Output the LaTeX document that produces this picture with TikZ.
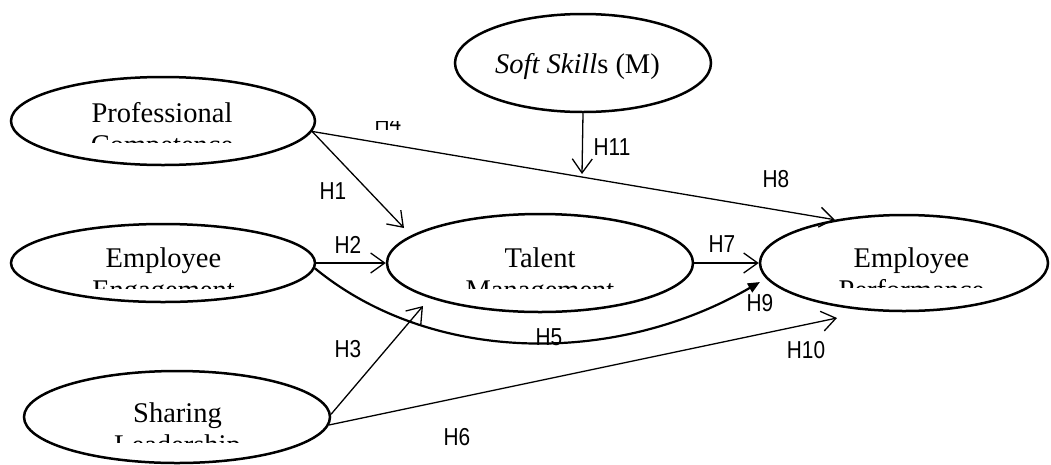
\documentclass[tikz,border=0pt]{standalone}
\usepackage{fontspec}
\setmainfont{Liberation Serif}
\newfontfamily\hfont[FakeStretch=0.85]{Liberation Sans}
\usetikzlibrary{arrows.meta,shapes.geometric}
\begin{document}
\begin{tikzpicture}[x=1pt,y=-1pt,
 ell/.style={draw, ellipse, line width=2.5pt, inner sep=0pt},
 ltext/.style={font=\fontsize{28.5}{32}\selectfont, anchor=base, inner sep=0pt},
 hlab/.style={font=\hfont\fontsize{24.5}{26}\selectfont, inner sep=0pt},
 arr/.style={line width=1.3pt, -{Straight Barb[length=14pt,width=20pt,line width=1.3pt]}},
]
\useasboundingbox (0,0) rectangle (1051,464);

% ellipses
\node[ell, minimum width=304pt, minimum height=88pt] (pc) at (163,121) {};
\node[ell, minimum width=304pt, minimum height=78pt] (ee) at (163,263) {};
\node[ell, minimum width=306pt, minimum height=92pt] (sl) at (177,417) {};
\node[ell, minimum width=306pt, minimum height=98pt] (tm) at (540,263) {};
\node[ell, minimum width=288pt, minimum height=96pt] (ep) at (904,263) {};
\node[ell, minimum width=256pt, minimum height=98pt] (ss) at (583,63) {};

% texts
\node[ltext] (pct) at (162,122) {Professional};
\begin{scope}\clip (0,0) rectangle (340,142);
\node[ltext] (pct2) at (162,154) {Competence};
\end{scope}
\node[ltext] (eet) at (163.5,267) {Employee};
\begin{scope}\clip (0,200) rectangle (340,288);
\node[ltext] (eet2) at (163.5,299) {Engagement};
\end{scope}
\node[ltext] (tmt) at (540,267) {Talent};
\begin{scope}\clip (380,200) rectangle (700,288);
\node[ltext] (tmt2) at (540,299) {Management};
\end{scope}
\node[ltext] (ept) at (911.5,267) {Employee};
\begin{scope}\clip (760,200) rectangle (1051,287);
\node[ltext] (ept2) at (911.5,299) {Performance};
\end{scope}
\node[ltext] (slt) at (177.5,422) {Sharing};
\begin{scope}\clip (0,380) rectangle (340,442);
\node[ltext] (slt2) at (177.5,454) {Leadership};
\end{scope}
\node[ltext] (sst) at (577.5,73) {\textit{Soft Skill}s (M)};

% connector end points
\coordinate (h1end) at (404,228);
\coordinate (h11end) at (582,174);
\coordinate (h9end) at (760,282);
\coordinate (h3end) at (423,306);
\coordinate (h6end) at (837,318);

% connectors
\draw[arr] (pc.-4) -- (h1end);
\draw[arr] (pc.-4) -- (ep.148.7);
\draw[arr] (ss.south) -- (h11end);
\draw[arr] (ee.east) -- (tm.west);
\draw[arr] (tm.east) -- (ep.west);
\draw[line width=2.2pt, -{Triangle[length=12pt,width=10pt]}] (ee.-2) .. controls (430,363) and (613,367) .. (h9end);
\draw[arr] (sl.1) -- (h3end);
\draw[arr] (sl.-3) -- (h6end);

% labels
\node[hlab] (l1) at (333,191) {H1};
\node[hlab] (l2) at (348,245) {H2};
\node[hlab] (l3) at (348,349) {H3};
\begin{scope}\clip (360,121) rectangle (420,135);
\node[hlab, anchor=base] (l4) at (388,130) {H4};
\end{scope}
\node[hlab] (l5) at (549,337) {H5};
\node[hlab] (l6) at (457,437) {H6};
\node[hlab] (l7) at (722,244) {H7};
\node[hlab] (l8) at (776,179) {H8};
\node[hlab] (l9) at (760,303) {H9};
\node[hlab] (l10) at (806,350) {H10};
\node[hlab] (l11) at (612,147) {H11};
\end{tikzpicture}
\end{document}
